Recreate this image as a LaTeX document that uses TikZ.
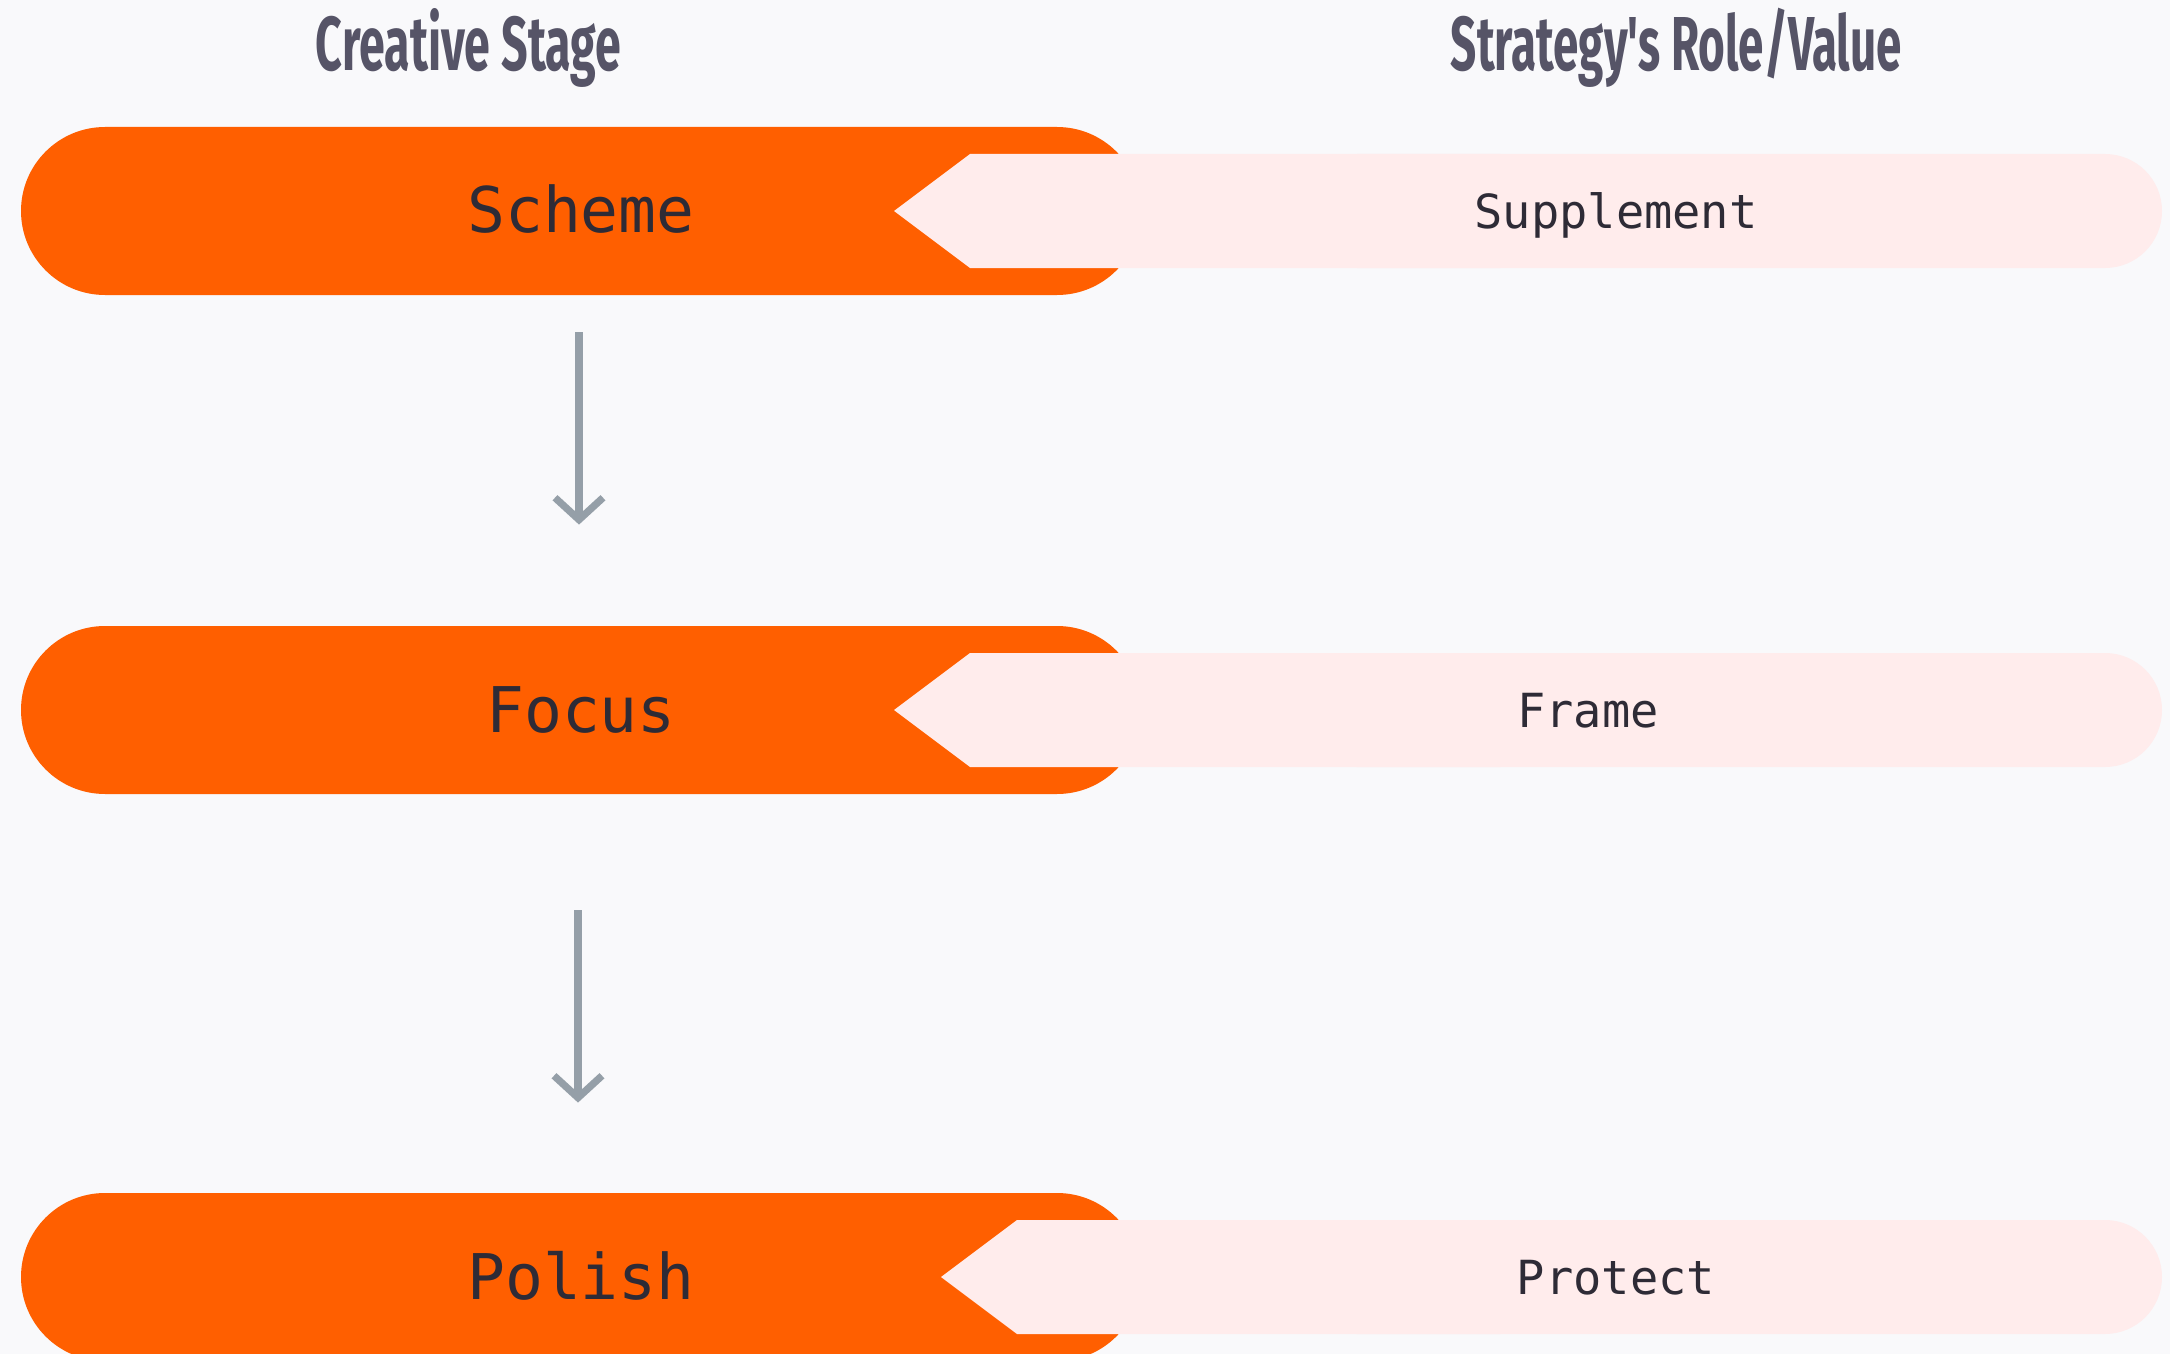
\documentclass[tikz,border=0pt]{standalone}
\usepackage{fontspec}
\usepackage{graphicx}
\usetikzlibrary{arrows.meta}
\newfontfamily\monofont{DejaVu Sans Mono}
\newfontfamily\headfont{Fira Sans}
\definecolor{bgc}{HTML}{F9F9FB}
\definecolor{orangec}{HTML}{FF5F00}
\definecolor{pinkc}{HTML}{FFECEC}
\definecolor{headc}{HTML}{565467}
\definecolor{textc}{HTML}{2E2B36}
\definecolor{arrowc}{HTML}{959FA8}
\newcommand\hdrtext[3]{\resizebox{#1}{#2}{\headfont\bfseries\smash{#3}\rule{0pt}{\fontcharht\font`C}}}
\tikzset{
  stagebox/.style={rectangle, fill=orangec, rounded corners=42pt, minimum width=560pt,
    minimum height=84pt, inner sep=0pt, text height=22pt, text depth=0pt,
    font=\monofont\fontsize{31.5}{36}\selectfont, text=textc},
  rolelabel/.style={anchor=base, inner sep=0pt, font=\monofont\fontsize{23.5}{28}\selectfont, text=textc},
  header/.style={anchor=base, inner sep=0pt, text=headc},
  flow/.style={draw=arrowc, line width=3.6pt, line cap=butt,
    -{Straight Barb[length=11pt, width=24pt, line width=3.6pt, line join=miter]}},
  rolefill/.style={fill=pinkc}
}
\begin{document}
\begin{tikzpicture}[x=0.5pt, y=-0.5pt]
\fill[bgc] (0,0) rectangle (2170,1354);
\clip (0,0) rectangle (2170,1354);

% headers
\node[header] (h1) at (468.5,71) {\hdrtext{152.5pt}{26.5pt}{Creative Stage}};
\node[header] (h2) at (1676.5,71) {\hdrtext{225.5pt}{26.5pt}{Strategy's Role/Value}};

% stages
\node[stagebox] (s1) at (581,211) {Scheme};
\node[stagebox] (s2) at (581,710) {Focus};
\node[stagebox] (s3) at (581,1277) {Polish};

% role shapes
\fill[rolefill] (894,211) -- (970,154) -- (1500,154) -- (1500,268) -- (970,268) -- cycle;
\fill[rolefill, rounded corners=28.5pt] (1300,154) rectangle (2162,268);
\fill[rolefill] (894,710) -- (970,653) -- (1500,653) -- (1500,767) -- (970,767) -- cycle;
\fill[rolefill, rounded corners=28.5pt] (1300,653) rectangle (2162,767);
\fill[rolefill] (941,1277) -- (1017,1220) -- (1500,1220) -- (1500,1334) -- (1017,1334) -- cycle;
\fill[rolefill, rounded corners=28.5pt] (1300,1220) rectangle (2162,1334);

\node[rolelabel] (r1) at (1616,228) {Supplement};
\node[rolelabel] (r2) at (1588,727) {Frame};
\node[rolelabel] (r3) at (1616,1294) {Protect};

% flow arrows
\draw[flow, shorten <=18.5pt, shorten >=50.5pt] ([xshift=-1pt]s1.south) -- ([xshift=-1pt]s2.north);
\draw[flow, shorten <=58pt, shorten >=45pt] ([xshift=-1.5pt]s2.south) -- ([xshift=-1.5pt]s3.north);
\end{tikzpicture}
\end{document}
